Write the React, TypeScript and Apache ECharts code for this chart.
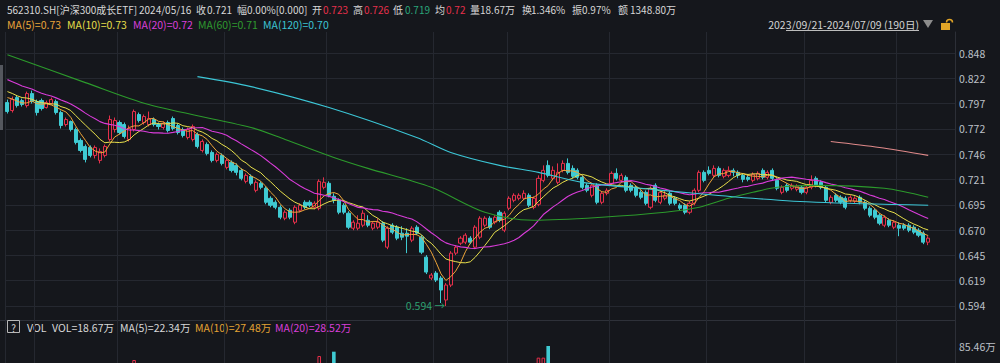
import React, { useEffect, useRef } from 'react';
import * as echarts from 'echarts';

// ---------- data ----------
const startDate = '2023-09-21';
const endDate = '2024-07-09';
const holidays = ['2023-09-29', '2023-10-02', '2023-10-03', '2023-10-04', '2023-10-05', '2023-10-06', '2024-01-01', '2024-02-09', '2024-02-12', '2024-02-13', '2024-02-14', '2024-02-15', '2024-02-16', '2024-04-04', '2024-04-05', '2024-05-01', '2024-05-02', '2024-05-03', '2024-06-10'];

const opens = [
  0.798, 0.790, 0.803, 0.800, 0.795, 0.807, 0.799, 0.800, 0.793, 0.797,
  0.799, 0.788, 0.776, 0.779, 0.771, 0.760, 0.754, 0.753, 0.745, 0.740,
  0.745, 0.761, 0.771, 0.778, 0.776, 0.761, 0.771, 0.786, 0.778, 0.776,
  0.781, 0.776, 0.773, 0.778, 0.782, 0.775, 0.771, 0.763, 0.761, 0.766,
  0.750, 0.756, 0.748, 0.740, 0.745, 0.733, 0.738, 0.735, 0.730, 0.719,
  0.724, 0.710, 0.717, 0.712, 0.702, 0.698, 0.693, 0.682, 0.690, 0.678,
  0.690, 0.698, 0.698, 0.693, 0.692, 0.713, 0.717, 0.704, 0.700, 0.695,
  0.687, 0.672, 0.672, 0.675, 0.680, 0.672, 0.673, 0.677, 0.653, 0.675,
  0.673, 0.667, 0.667, 0.660, 0.673, 0.663, 0.643, 0.622, 0.627, 0.622,
  0.600, 0.615, 0.647, 0.657, 0.658, 0.662, 0.653, 0.663, 0.675, 0.682,
  0.678, 0.688, 0.670, 0.692, 0.700, 0.702, 0.702, 0.705, 0.693, 0.696,
  0.720, 0.735, 0.722, 0.718, 0.730, 0.737, 0.732, 0.730, 0.723, 0.715,
  0.705, 0.715, 0.698, 0.707, 0.717, 0.727, 0.720, 0.723, 0.715, 0.713,
  0.708, 0.708, 0.693, 0.715, 0.698, 0.702, 0.707, 0.702, 0.695, 0.695,
  0.688, 0.697, 0.710, 0.728, 0.730, 0.725, 0.732, 0.724, 0.725, 0.730,
  0.728, 0.725, 0.723, 0.720, 0.722, 0.730, 0.723, 0.730, 0.720, 0.708,
  0.715, 0.712, 0.711, 0.713, 0.708, 0.713, 0.722, 0.718, 0.713, 0.698,
  0.705, 0.703, 0.702, 0.700, 0.699, 0.703, 0.698, 0.692, 0.690, 0.685,
  0.675, 0.680, 0.673, 0.675, 0.675, 0.675, 0.673, 0.670, 0.667, 0.658,
];
const closes = [
  0.789, 0.801, 0.795, 0.796, 0.807, 0.799, 0.788, 0.792, 0.798, 0.801,
  0.788, 0.775, 0.781, 0.771, 0.758, 0.750, 0.741, 0.745, 0.753, 0.749,
  0.754, 0.781, 0.780, 0.768, 0.764, 0.772, 0.789, 0.780, 0.784, 0.782,
  0.776, 0.774, 0.777, 0.770, 0.772, 0.768, 0.765, 0.771, 0.774, 0.754,
  0.759, 0.747, 0.740, 0.746, 0.737, 0.740, 0.730, 0.728, 0.722, 0.725,
  0.717, 0.718, 0.713, 0.698, 0.695, 0.693, 0.683, 0.688, 0.683, 0.693,
  0.695, 0.693, 0.695, 0.697, 0.719, 0.718, 0.705, 0.700, 0.688, 0.688,
  0.673, 0.678, 0.677, 0.687, 0.675, 0.677, 0.678, 0.660, 0.672, 0.668,
  0.662, 0.663, 0.664, 0.672, 0.667, 0.648, 0.628, 0.625, 0.620, 0.610,
  0.615, 0.647, 0.653, 0.662, 0.665, 0.658, 0.673, 0.682, 0.682, 0.673,
  0.683, 0.680, 0.687, 0.702, 0.705, 0.705, 0.707, 0.695, 0.702, 0.722,
  0.730, 0.725, 0.730, 0.728, 0.737, 0.728, 0.724, 0.723, 0.713, 0.710,
  0.715, 0.698, 0.707, 0.710, 0.727, 0.722, 0.725, 0.710, 0.710, 0.705,
  0.703, 0.697, 0.712, 0.700, 0.708, 0.705, 0.697, 0.697, 0.692, 0.688,
  0.697, 0.710, 0.728, 0.720, 0.727, 0.732, 0.725, 0.730, 0.730, 0.728,
  0.725, 0.721, 0.721, 0.726, 0.727, 0.723, 0.728, 0.722, 0.712, 0.713,
  0.710, 0.715, 0.714, 0.708, 0.713, 0.720, 0.715, 0.713, 0.700, 0.703,
  0.700, 0.698, 0.693, 0.703, 0.702, 0.698, 0.692, 0.685, 0.683, 0.677,
  0.683, 0.675, 0.678, 0.672, 0.672, 0.670, 0.668, 0.665, 0.658, 0.662,
];
const highs = [
  0.801, 0.804, 0.805, 0.802, 0.809, 0.810, 0.801, 0.802, 0.800, 0.803,
  0.801, 0.790, 0.783, 0.780, 0.773, 0.762, 0.756, 0.755, 0.755, 0.752,
  0.756, 0.785, 0.783, 0.780, 0.778, 0.775, 0.791, 0.788, 0.786, 0.789,
  0.783, 0.778, 0.779, 0.780, 0.784, 0.777, 0.773, 0.773, 0.776, 0.768,
  0.761, 0.758, 0.750, 0.748, 0.747, 0.742, 0.740, 0.737, 0.732, 0.727,
  0.726, 0.720, 0.719, 0.714, 0.704, 0.700, 0.695, 0.690, 0.692, 0.695,
  0.697, 0.700, 0.700, 0.699, 0.721, 0.723, 0.719, 0.707, 0.702, 0.697,
  0.689, 0.680, 0.685, 0.690, 0.685, 0.679, 0.682, 0.679, 0.674, 0.677,
  0.675, 0.674, 0.672, 0.674, 0.675, 0.665, 0.645, 0.627, 0.629, 0.624,
  0.617, 0.649, 0.655, 0.664, 0.667, 0.664, 0.675, 0.684, 0.684, 0.684,
  0.685, 0.690, 0.689, 0.704, 0.707, 0.707, 0.710, 0.707, 0.704, 0.725,
  0.735, 0.740, 0.734, 0.737, 0.740, 0.742, 0.735, 0.732, 0.725, 0.717,
  0.717, 0.717, 0.709, 0.712, 0.729, 0.732, 0.727, 0.725, 0.717, 0.715,
  0.710, 0.710, 0.714, 0.717, 0.710, 0.710, 0.709, 0.704, 0.697, 0.697,
  0.699, 0.712, 0.730, 0.730, 0.734, 0.735, 0.734, 0.732, 0.734, 0.732,
  0.730, 0.727, 0.726, 0.728, 0.729, 0.732, 0.730, 0.732, 0.722, 0.715,
  0.717, 0.717, 0.716, 0.715, 0.715, 0.725, 0.724, 0.720, 0.715, 0.705,
  0.707, 0.705, 0.704, 0.705, 0.704, 0.705, 0.700, 0.694, 0.692, 0.687,
  0.685, 0.682, 0.680, 0.678, 0.677, 0.677, 0.675, 0.672, 0.669, 0.664,
];
const lows = [
  0.787, 0.788, 0.793, 0.794, 0.793, 0.797, 0.785, 0.790, 0.792, 0.796,
  0.786, 0.772, 0.774, 0.769, 0.756, 0.748, 0.738, 0.743, 0.742, 0.737,
  0.743, 0.759, 0.768, 0.766, 0.762, 0.759, 0.769, 0.778, 0.776, 0.774,
  0.774, 0.771, 0.771, 0.768, 0.770, 0.766, 0.763, 0.761, 0.759, 0.752,
  0.748, 0.745, 0.738, 0.738, 0.735, 0.731, 0.728, 0.725, 0.720, 0.717,
  0.715, 0.708, 0.711, 0.696, 0.693, 0.691, 0.681, 0.680, 0.681, 0.676,
  0.688, 0.691, 0.693, 0.691, 0.690, 0.711, 0.703, 0.697, 0.686, 0.686,
  0.671, 0.670, 0.670, 0.673, 0.673, 0.670, 0.671, 0.658, 0.651, 0.666,
  0.660, 0.660, 0.647, 0.658, 0.665, 0.646, 0.626, 0.620, 0.618, 0.597,
  0.594, 0.613, 0.645, 0.655, 0.656, 0.656, 0.651, 0.661, 0.673, 0.671,
  0.676, 0.678, 0.668, 0.690, 0.698, 0.700, 0.700, 0.693, 0.691, 0.694,
  0.718, 0.723, 0.720, 0.716, 0.728, 0.726, 0.722, 0.721, 0.711, 0.708,
  0.703, 0.696, 0.696, 0.705, 0.715, 0.720, 0.718, 0.708, 0.708, 0.703,
  0.701, 0.695, 0.691, 0.698, 0.696, 0.700, 0.695, 0.695, 0.690, 0.686,
  0.686, 0.695, 0.708, 0.718, 0.725, 0.723, 0.723, 0.722, 0.723, 0.724,
  0.722, 0.718, 0.719, 0.718, 0.720, 0.721, 0.721, 0.720, 0.710, 0.706,
  0.708, 0.710, 0.709, 0.706, 0.706, 0.711, 0.713, 0.711, 0.698, 0.696,
  0.698, 0.696, 0.691, 0.698, 0.697, 0.696, 0.690, 0.683, 0.681, 0.675,
  0.673, 0.673, 0.671, 0.664, 0.670, 0.668, 0.666, 0.663, 0.656, 0.655,
];
// closes before the first visible day (only used for the moving averages)
const priorCloses = [0.842, 0.838, 0.840, 0.835, 0.832, 0.830, 0.833, 0.828, 0.826, 0.826, 0.820, 0.818, 0.814, 0.812, 0.811, 0.808, 0.806, 0.805, 0.807];

// long moving averages: [day index, value]
const ma60Points = [[0, 0.846], [16, 0.818], [29, 0.796], [50, 0.773], [57, 0.761], [67, 0.743], [74, 0.732], [87, 0.713], [98, 0.688], [108, 0.680], [122, 0.683], [135, 0.688], [142, 0.693], [148, 0.702], [153, 0.708], [158, 0.713], [166, 0.715], [180, 0.712], [189, 0.703]];
const ma120Points = [[39, 0.824], [50, 0.814], [66, 0.793], [84, 0.763], [91, 0.748], [101, 0.735], [109, 0.728], [118, 0.718], [130, 0.712], [141, 0.707], [153, 0.702], [166, 0.698], [189, 0.695]];
const ma250Points = [[169, 0.759], [179, 0.753], [189, 0.745]];

// volume, 万
const volumes = [
  28, 32, 25, 22, 35, 30, 27, 24, 26, 22,
  30, 38, 26, 33, 42, 40, 45, 35, 30, 33,
  36, 62, 48, 35, 33, 40, 73.5, 45, 38, 42,
  30, 28, 32, 35, 33, 30, 28, 36, 48, 40,
  35, 38, 42, 30, 36, 32, 38, 40, 36, 44,
  48, 35, 45, 42, 38, 46, 40, 38, 52, 36,
  33, 30, 34, 30, 76.9, 55, 48, 80.6, 50, 45,
  52, 40, 44, 36, 34, 38, 46, 48, 42, 36,
  38, 45, 40, 38, 50, 62, 55, 48, 64, 66,
  60, 58, 45, 40, 38, 36, 50, 46, 40, 35,
  36, 34, 52, 46, 38, 34, 35, 40, 45, 75.5,
  75.5, 85.46, 55, 50, 48, 42, 38, 36, 40, 35,
  38, 44, 36, 32, 45, 35, 30, 38, 33, 30,
  32, 36, 40, 35, 30, 28, 30, 26, 28, 32,
  30, 38, 52, 40, 30, 26, 24, 28, 25, 22,
  24, 20, 18.67, 22, 20, 24, 21, 28, 26, 22,
  20, 19, 22, 24, 23, 21, 28, 25, 22, 24,
  26, 22, 20, 23, 28, 30, 27, 32, 28, 25,
  24, 26, 22, 20, 21, 22, 24, 30, 32, 26,
];

const priceTicks = [0.594, 0.61937, 0.64474, 0.67011, 0.69548, 0.72085, 0.74622, 0.77159, 0.79696, 0.82233, 0.8477];
const volTicks = [85.46];

const headerRow = [
  { x: 7, t: '562310.SH[沪深300成长ETF]', c: 'w' },
  { x: 139, t: '2024/05/16', c: 'w' },
  { x: 196, t: '收', c: 'w' }, { x: 207, t: '0.721', c: 'w' },
  { x: 237, t: '幅', c: 'w' }, { x: 247, t: '0.00%[0.000]', c: 'w' },
  { x: 312, t: '开', c: 'w' }, { x: 323, t: '0.723', c: 'r' },
  { x: 353, t: '高', c: 'w' }, { x: 364, t: '0.726', c: 'r' },
  { x: 393, t: '低', c: 'w' }, { x: 405, t: '0.719', c: 'g' },
  { x: 435, t: '均', c: 'w' }, { x: 446, t: '0.72', c: 'r' },
  { x: 470, t: '量', c: 'w' }, { x: 480, t: '18.67万', c: 'w' },
  { x: 522, t: '换', c: 'w' }, { x: 531, t: '1.346%', c: 'w' },
  { x: 572, t: '振', c: 'w' }, { x: 582, t: '0.97%', c: 'w' },
  { x: 618, t: '额', c: 'w' }, { x: 630, t: '1348.80万', c: 'w' },
];
const maLegend = [
  { x: 7, t: 'MA(5)=0.73', c: '#e9a43a' },
  { x: 67, t: 'MA(10)=0.73', c: '#e4de4a' },
  { x: 133, t: 'MA(20)=0.72', c: '#d93fd9' },
  { x: 198, t: 'MA(60)=0.71', c: '#2f9a2f' },
  { x: 263, t: 'MA(120)=0.70', c: '#3cc3d3' },
];
const volLegend = [
  { x: 27, t: 'VOL', c: '#d8d8d8' },
  { x: 52, t: 'VOL=18.67万', c: '#d8d8d8' },
  { x: 120, t: 'MA(5)=22.34万', c: '#d8d8d8' },
  { x: 195, t: 'MA(10)=27.48万', c: '#e3a233' },
  { x: 275, t: 'MA(20)=28.52万', c: '#d93fd9' },
];
const rangeLabel = '2023/09/21-2024/07/09 (190日)';

// ---------- helpers ----------
function tradingDays(): string[] {
  const out: string[] = [];
  const d = new Date(startDate + 'T00:00:00Z');
  const end = new Date(endDate + 'T00:00:00Z');
  while (d <= end) {
    const wd = d.getUTCDay();
    const iso = d.toISOString().slice(0, 10);
    if (wd !== 0 && wd !== 6 && holidays.indexOf(iso) < 0) out.push(iso.replace(/-/g, '/'));
    d.setUTCDate(d.getUTCDate() + 1);
  }
  return out;
}

function movingAverage(n: number): number[] {
  const all = priorCloses.concat(closes);
  return closes.map((_, i) => {
    const k = i + priorCloses.length;
    let s = 0;
    for (let t = k - n + 1; t <= k; t++) s += all[t];
    return +(s / n).toFixed(4);
  });
}

const BG = '#15171c';
const UP = '#e6304b';
const DOWN = '#3fcbd3';
const GRID = '#252830';
const FONT = '"Noto Sans CJK SC", "Liberation Sans", sans-serif';

export default function App() {
  const ref = useRef<HTMLDivElement>(null);

  useEffect(() => {
    document.body.style.margin = '0';
    document.body.style.background = BG;
    const chart = echarts.init(ref.current!, undefined, { renderer: 'svg' });
    const dates = tradingDays();
    const lastIndex = dates.length + 4;
    const monthStart = (index: number) => {
      if (index === 0) return true;
      const a = dates[index];
      const b = dates[index - 1];
      return !!(a && b && a.slice(5, 7) !== b.slice(5, 7));
    };
    const ohlc = opens.map((o, i) => [o, closes[i], lows[i], highs[i]]);
    const lowIdx = lows.indexOf(Math.min(...lows));

    const colorOf: Record<string, string> = { w: '#d8d8d8', r: UP, g: '#2aa57a' };
    const texts: any[] = [];
    headerRow.forEach((h) => texts.push({ type: 'text', x: h.x, y: 9, silent: true, style: { text: h.t, fill: colorOf[h.c], font: `10px ${FONT}`, textVerticalAlign: 'middle' } }));
    maLegend.forEach((h) => texts.push({ type: 'text', x: h.x, y: 24, silent: true, style: { text: h.t, fill: h.c, font: `10.5px ${FONT}`, textVerticalAlign: 'middle' } }));
    volLegend.forEach((h) => texts.push({ type: 'text', x: h.x, y: 327, silent: true, style: { text: h.t, fill: h.c, font: `10.5px ${FONT}`, textVerticalAlign: 'middle' } }));

    const xAxisBase = {
      type: 'category',
      data: dates,
      boundaryGap: true,
      max: lastIndex,
      axisLine: { show: false },
      axisTick: { show: false },
      axisLabel: { show: false },
      splitLine: { show: true, interval: monthStart, lineStyle: { color: GRID, width: 1 } },
    };

    chart.setOption({
      animation: false,
      backgroundColor: BG,
      grid: [
        { left: 5, right: 45, top: 32, height: 314, containLabel: false, outerBoundsMode: 'none' },
        { left: 5, right: 45, top: 346, height: 100, containLabel: false, outerBoundsMode: 'none' },
      ],
      xAxis: [
        { ...xAxisBase, gridIndex: 0 },
        { ...xAxisBase, gridIndex: 1 },
      ],
      yAxis: [
        {
          type: 'value', gridIndex: 0, position: 'right', scale: true,
          min: 0.594 - 40 / 997.2, max: 0.8477 + 21 / 997.2,
          axisLine: { show: true, lineStyle: { color: '#2c2f37' } },
          axisTick: { show: false, customValues: priceTicks },
          axisLabel: { customValues: priceTicks, formatter: (v: number) => v.toFixed(3), color: '#bcc0c7', fontSize: 10.5, fontFamily: FONT, margin: 4 },
          splitLine: { show: true, lineStyle: { color: GRID, width: 1 } },
        },
        {
          type: 'value', gridIndex: 1, position: 'right', min: 0, max: 85.46,
          axisLine: { show: true, lineStyle: { color: '#2c2f37' } },
          axisTick: { show: false, customValues: volTicks },
          axisLabel: { customValues: volTicks, formatter: (v: number) => v.toFixed(2) + '万', color: '#bcc0c7', fontSize: 10.5, fontFamily: FONT, margin: 4 },
          splitLine: { show: false },
        },
      ],
      graphic: {
        elements: [
          { type: 'line', silent: true, shape: { x1: 0, y1: 320.5, x2: 955, y2: 320.5 }, style: { stroke: '#2e3139', lineWidth: 1 } },
          { type: 'rect', silent: true, shape: { x: 0, y: 65, width: 3, height: 65 }, style: { fill: '#54575e' } },
          { type: 'text', x: 919, y: 24, silent: true, style: { text: rangeLabel, fill: '#d2d2d2', font: `10.5px ${FONT}`, textAlign: 'right', textVerticalAlign: 'middle' } },
          { type: 'line', silent: true, shape: { x1: 786, y1: 30.5, x2: 919, y2: 30.5 }, style: { stroke: '#bdbdbd', lineWidth: 1 } },
          { type: 'polygon', silent: true, shape: { points: [[923, 20], [933, 20], [928, 28]] }, style: { fill: '#8c8c8c' } },
          { type: 'rect', silent: true, shape: { x: 941, y: 23, width: 9, height: 7 }, style: { fill: '#e2a527' } },
          { type: 'arc', silent: true, shape: { cx: 949.5, cy: 22.5, r: 3, startAngle: Math.PI, endAngle: Math.PI * 2 }, style: { stroke: '#e2a527', lineWidth: 1.5, fill: 'none' } },
          { type: 'rect', silent: true, shape: { x: 7.5, y: 320.5, width: 12, height: 12 }, style: { fill: 'none', stroke: '#b8b8b8', lineWidth: 1 } },
          { type: 'text', x: 13.5, y: 327, silent: true, style: { text: '?', fill: '#d8d8d8', font: `10px ${FONT}`, textAlign: 'center', textVerticalAlign: 'middle' } },
          ...texts,
        ],
      },
      series: [
        {
          type: 'candlestick', xAxisIndex: 0, yAxisIndex: 0, data: ohlc, barWidth: 3.6,
          itemStyle: { color: BG, color0: DOWN, borderColor: UP, borderColor0: DOWN, borderWidth: 1 },
          markPoint: {
            silent: true, animation: false,
            data: [{
              coord: [lowIdx, lows[lowIdx]], symbol: 'circle', symbolSize: 0,
              label: { show: true, position: 'left', distance: 1, formatter: lows[lowIdx].toFixed(3) + ' →', color: '#2ea070', fontSize: 10.5, fontFamily: FONT },
            }],
          },
        },
        { type: 'line', name: 'MA5', data: movingAverage(5), symbol: 'none', lineStyle: { color: '#eda53a', width: 1 }, silent: true },
        { type: 'line', name: 'MA10', data: movingAverage(10), symbol: 'none', lineStyle: { color: '#e8e04c', width: 1 }, silent: true },
        { type: 'line', name: 'MA20', data: movingAverage(20), symbol: 'none', lineStyle: { color: '#d93cd9', width: 1.1 }, silent: true },
        { type: 'line', name: 'MA60', data: ma60Points, symbol: 'none', smooth: 0.3, lineStyle: { color: '#2c9a2c', width: 1.1 }, silent: true },
        { type: 'line', name: 'MA120', data: ma120Points, symbol: 'none', smooth: 0.3, lineStyle: { color: '#3cc6d6', width: 1.1 }, silent: true },
        { type: 'line', name: 'MA250', data: ma250Points, symbol: 'none', smooth: 0.3, lineStyle: { color: '#e08a8a', width: 1.1 }, silent: true },
        {
          type: 'bar', xAxisIndex: 1, yAxisIndex: 1, barWidth: 3.6, silent: true,
          data: volumes.map((v, i) => ({
            value: v,
            itemStyle: closes[i] >= opens[i] ? { color: BG, borderColor: UP, borderWidth: 1 } : { color: DOWN },
          })),
        },
      ],
    });
    return () => chart.dispose();
  }, []);

  return <div ref={ref} style={{ position: 'fixed', left: 0, top: 0, width: 1000, height: 363 }} />;
}
